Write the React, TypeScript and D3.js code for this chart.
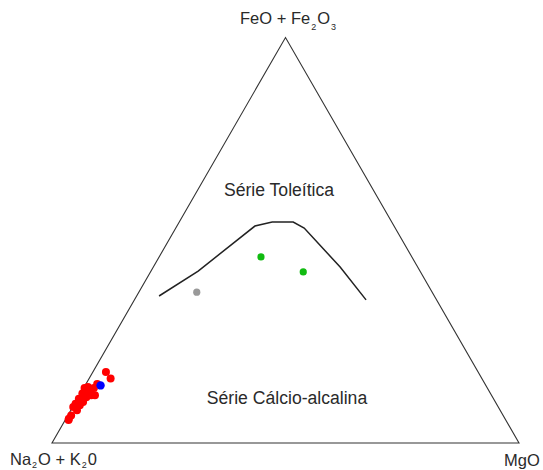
import React from "react";
import * as d3 from "d3";

// Ternary data as [Na2O+K2O, FeO+Fe2O3, MgO] fractions
const boundaryA = [0.59, 0.475, 0.298, 0.256, 0.211, 0.195, 0.166, 0.151];
const boundaryF = [0.3625, 0.424, 0.535, 0.545, 0.545, 0.530, 0.434, 0.353];
const boundaryM = [0.048, 0.101, 0.167, 0.199, 0.244, 0.275, 0.400, 0.496];

const redF = [0.175, 0.159, 0.1355, 0.1355, 0.126, 0.122, 0.118, 0.113, 0.109, 0.101, 0.097, 0.093, 0.089, 0.068, 0.060, 0.057, 0.1455, 0.138, 0.118, 0.081, 0.130, 0.105];
const redM = [0.028, 0.046, 0.022, 0.002, 0.018, 0.004, 0.025, 0.017, 0.003, 0.016, 0.002, 0.013, 0.001, 0.007, 0.006, 0.007, 0.024, 0.008, 0.033, 0.013, 0.010, 0.009];

const blueF = [0.142];
const blueM = [0.033];

const greenF = [0.459, 0.422];
const greenM = [0.218, 0.327];

const grayF = [0.372];
const grayM = [0.124];

const W = 543;
const H = 470;
const left = { x: 52, y: 443 };
const right = { x: 519, y: 443 };
const apexY = 37.5;

// fractional scales along base and height
const xScale = d3.scaleLinear().domain([0, 1]).range([left.x, right.x]);
const yScale = d3.scaleLinear().domain([0, 1]).range([left.y, apexY]);

function proj(f: number, m: number): [number, number] {
  return [xScale(m + f / 2), yScale(f)];
}

export default function App() {
  const tri = d3.line()([
    proj(0, 0),
    proj(0, 1),
    proj(1, 0),
  ]) + "Z";
  const boundary = d3.line()(
    boundaryF.map((f, i) => proj(f, boundaryM[i]))
  );
  const font = "'Liberation Sans', Arial, sans-serif";
  const txt = "#2a2a2a";
  return (
    <svg
      width={W}
      height={H}
      style={{ position: "absolute", left: 0, top: 0, background: "#fff" }}
      fontFamily={font}
    >
      <path d={tri} fill="none" stroke="#333" strokeWidth={1.1} />
      <path d={boundary || ""} fill="none" stroke="#222" strokeWidth={1.5} />
      {grayF.map((f, i) => {
        const [x, y] = proj(f, grayM[i]);
        return <circle key={"g" + i} cx={x} cy={y} r={3.6} fill="#999999" />;
      })}
      {greenF.map((f, i) => {
        const [x, y] = proj(f, greenM[i]);
        return <circle key={"gr" + i} cx={x} cy={y} r={3.6} fill="#11bb11" />;
      })}
      {redF.map((f, i) => {
        const [x, y] = proj(f, redM[i]);
        return <circle key={"r" + i} cx={x} cy={y} r={4} fill="#ff0000" />;
      })}
      {blueF.map((f, i) => {
        const [x, y] = proj(f, blueM[i]);
        return <circle key={"b" + i} cx={x} cy={y} r={4.2} fill="#0000ff" />;
      })}
      <text x={279} y={196} textAnchor="middle" fontSize={17.6} fill={txt}>
        Série Toleítica
      </text>
      <text x={287} y={404} textAnchor="middle" fontSize={17.6} fill={txt}>
        Série Cálcio-alcalina
      </text>
      <text x={240} y={24} fontSize={16.5} fill={txt}>
        FeO + Fe<tspan fontSize={9} dx={1} dy={6}>2</tspan>
        <tspan dx={1} dy={-6}>O</tspan>
        <tspan fontSize={9} dx={1} dy={6}>3</tspan>
      </text>
      <text x={10} y={465} fontSize={16.5} fill={txt}>
        Na<tspan fontSize={9} dx={1} dy={3}>2</tspan>
        <tspan dx={1} dy={-3}>O + K</tspan>
        <tspan fontSize={9} dx={1} dy={3}>2</tspan>
        <tspan dx={1} dy={-3}>0</tspan>
      </text>
      <text x={504} y={466} fontSize={16.5} fill={txt}>
        MgO
      </text>
    </svg>
  );
}
